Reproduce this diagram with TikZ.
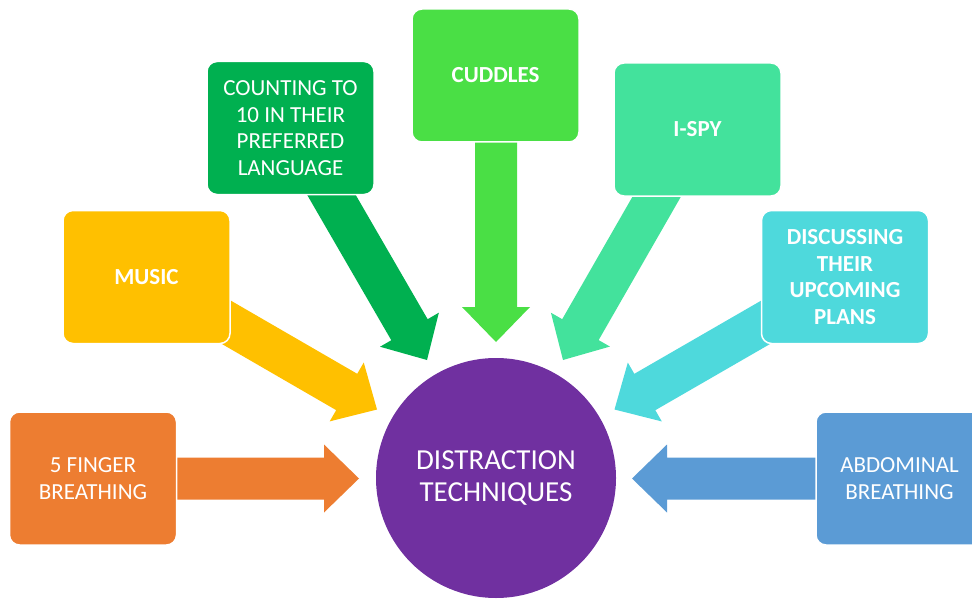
\documentclass[tikz,border=0pt]{standalone}
\usepackage{fontspec}
\setmainfont{Carlito}
\usetikzlibrary{calc}
\definecolor{corange}{HTML}{ED7D31}
\definecolor{cyellow}{HTML}{FFC000}
\definecolor{cgreen}{HTML}{00B050}
\definecolor{clime}{HTML}{4ADF45}
\definecolor{cmint}{HTML}{43E29C}
\definecolor{ccyan}{HTML}{4ED9DC}
\definecolor{cblue}{HTML}{5B9BD5}
\definecolor{cpurple}{HTML}{7030A0}
\newcommand\blockarr[3]{%
  \fill[#3] let \p1=($(#2)-(#1)$), \n1={atan2(\y1,\x1)} in
    ($(#1)+({\n1+90}:21pt)$)
    -- ($(#2)+({\n1+180}:35pt)+({\n1+90}:21pt)$)
    -- ($(#2)+({\n1+180}:35pt)+({\n1+90}:34pt)$)
    -- (#2)
    -- ($(#2)+({\n1+180}:35pt)+({\n1-90}:34pt)$)
    -- ($(#2)+({\n1+180}:35pt)+({\n1-90}:21pt)$)
    -- ($(#1)+({\n1-90}:21pt)$) -- cycle;}
\tikzset{
  boxst/.style={rounded corners=10pt, draw=white, line width=1.5pt,
    minimum width=167pt, minimum height=133pt, text=white, align=center,
    inner sep=2pt, font=\fontsize{23}{26.5}\selectfont},
  boldbox/.style={boxst, font=\fontsize{23}{26.5}\selectfont\bfseries},
  hubst/.style={circle, fill=cpurple, minimum size=240pt, inner sep=0pt,
    text=white, align=center, font=\fontsize{29}{32}\selectfont}
}
\begin{document}
\begin{tikzpicture}[x=1pt,y=-1pt]
\useasboundingbox (0,0) rectangle (972,599);
% arrow tails and tips
\coordinate (t1) at (170,478.5);  \coordinate (p1) at (359,478.5);
\coordinate (t2) at (823,478.5);  \coordinate (p2) at (632,478.5);
\coordinate (t3) at (496,130);    \coordinate (p3) at (496,342);
\coordinate (t4) at (317,170);    \coordinate (p4) at (427,360);
\coordinate (t5) at (672,170);    \coordinate (p5) at (563,360);
\coordinate (t6) at (212,314);    \coordinate (p6) at (377,409.5);
\coordinate (t7) at (780,314);    \coordinate (p7) at (614.5,409.5);
\blockarr{t1}{p1}{corange}
\blockarr{t2}{p2}{cblue}
\blockarr{t3}{p3}{clime}
\blockarr{t4}{p4}{cgreen}
\blockarr{t5}{p5}{cmint}
\blockarr{t6}{p6}{cyellow}
\blockarr{t7}{p7}{ccyan}
% boxes
\node[boxst, fill=corange] (five) at (93,478.5) {5 FINGER\\BREATHING};
\node[boldbox, fill=cyellow] (music) at (146.5,277) {MUSIC};
\node[boxst, fill=cgreen] (count) at (290.5,128) {COUNTING TO\\10 IN THEIR\\PREFERRED\\LANGUAGE};
\node[boldbox, fill=clime] (cuddles) at (495.5,75.5) {CUDDLES};
\node[boldbox, fill=cmint] (ispy) at (697.5,129.5) {I-SPY};
\node[boldbox, fill=ccyan] (disc) at (845,277) {DISCUSSING\\THEIR\\UPCOMING\\PLANS};
\node[boxst, fill=cblue] (abd) at (899.5,478.5) {ABDOMINAL\\BREATHING};
% hub
\node[hubst] (hub) at (496,478) {DISTRACTION\\TECHNIQUES};
\end{tikzpicture}
\end{document}
